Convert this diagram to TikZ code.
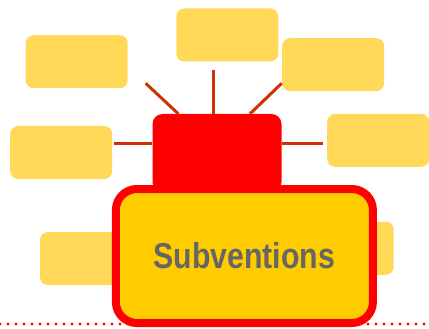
\documentclass[tikz,border=0pt]{standalone}
\usepackage{fontspec}
\setmainfont{Liberation Sans}
\usepackage{graphicx}
\usetikzlibrary{positioning,calc}
\definecolor{pale}{HTML}{FFD957}
\definecolor{gold}{HTML}{FFCC00}
\definecolor{link}{HTML}{CC3300}
\definecolor{txt}{HTML}{666666}
\tikzset{
  leaf/.style={rectangle,fill=pale,rounded corners=8pt,minimum width=102pt,minimum height=53pt,inner sep=0pt},
  hubbox/.style={rectangle,fill=red,rounded corners=10pt,minimum width=129pt,minimum height=78pt,inner sep=0pt},
  topic/.style={rectangle,draw=red,line width=8pt,fill=gold,rounded corners=21pt,minimum width=257pt,minimum height=134pt,inner sep=0pt,font=\bfseries\fontsize{36}{40}\selectfont,text=txt},
  ray/.style={draw=link,line width=3pt},
}
\begin{document}
\begin{tikzpicture}[x=1pt,y=-1pt]
  \useasboundingbox (0,0) rectangle (429,329);
  % leaf boxes
  \node[leaf] (tl) at (76.7,61.7) {};
  \node[leaf] (tp) at (227.3,35) {};
  \node[leaf] (tr) at (333.2,64.7) {};
  \node[leaf] (lf) at (61.2,152.5) {};
  \node[leaf] (rt) at (378.2,140.3) {};
  \node[leaf] (bl) at (91,258.5) {};
  \node[leaf] (br) at (342.7,248.3) {};
  % hub and rays
  \node[hubbox] (hub) at (217,153) {};
  \coordinate (tl-end) at (145.7,83.3);
  \coordinate (tp-end) at (213.7,70.3);
  \coordinate (tr-end) at (281.7,83.3);
  \coordinate (lf-end) at (114,144);
  \coordinate (rt-end) at (322.7,144);
  \draw[ray] ([xshift=-38.7pt]hub.north) -- (tl-end);
  \draw[ray] ([xshift=-3.3pt]hub.north) -- (tp-end);
  \draw[ray] ([xshift=33pt]hub.north) -- (tr-end);
  \draw[ray] ([yshift=9pt]hub.west) -- (lf-end);
  \draw[ray] ([yshift=9pt]hub.east) -- (rt-end);
  % dotted base line
  \coordinate (base-l) at (0,324);
  \coordinate (base-r) at (429,324);
  \draw[red,line width=3.4pt,line cap=round,dash pattern=on 0pt off 8pt] (base-l) -- (base-r);
  % main topic
  \node[topic] (main) at (244.4,256) {\scalebox{0.84}[1]{Subventions}};
\end{tikzpicture}
\end{document}
